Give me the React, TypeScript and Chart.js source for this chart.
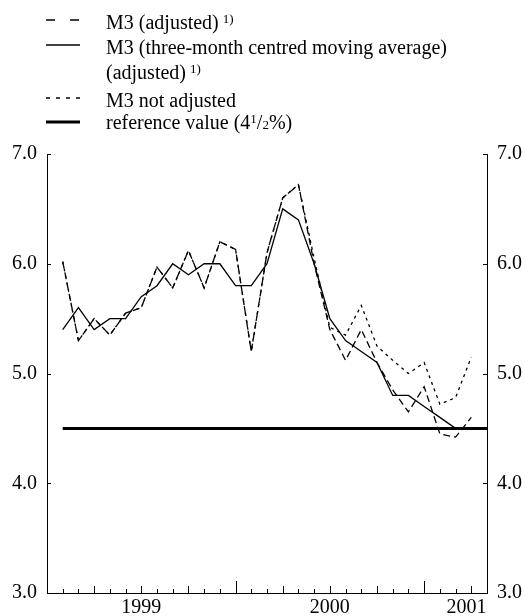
import React, { useEffect, useRef } from 'react';
import { Chart, registerables } from 'chart.js';

Chart.register(...registerables);

// Month-end observations, January 1999 to March 2001
const monthLabels = [
  'Jan 1999', 'Feb 1999', 'Mar 1999', 'Apr 1999', 'May 1999', 'Jun 1999',
  'Jul 1999', 'Aug 1999', 'Sep 1999', 'Oct 1999', 'Nov 1999', 'Dec 1999',
  'Jan 2000', 'Feb 2000', 'Mar 2000', 'Apr 2000', 'May 2000', 'Jun 2000',
  'Jul 2000', 'Aug 2000', 'Sep 2000', 'Oct 2000', 'Nov 2000', 'Dec 2000',
  'Jan 2001', 'Feb 2001', 'Mar 2001',
];

// M3 (adjusted) – dashed
const m3Adjusted = [
  6.02, 5.3, 5.5, 5.35, 5.55, 5.6, 5.97, 5.78, 6.12, 5.78, 6.2, 6.13,
  5.2, 6.1, 6.6, 6.72, 6.0, 5.4, 5.12, 5.4, 5.1, 4.85, 4.65, 4.88,
  4.45, 4.42, 4.6,
];

// M3 three-month centred moving average (adjusted) – solid
const m3MovingAverage = [
  5.4, 5.6, 5.4, 5.5, 5.5, 5.7, 5.8, 6.0, 5.9, 6.0, 6.0, 5.8,
  5.8, 6.0, 6.5, 6.4, 6.0, 5.5, 5.3, 5.2, 5.1, 4.8, 4.8, 4.7,
  4.6, 4.5,
];

// M3 not adjusted – dotted
const m3NotAdjusted = [
  6.02, 5.3, 5.5, 5.35, 5.55, 5.6, 5.97, 5.78, 6.12, 5.78, 6.2, 6.13,
  5.2, 6.1, 6.6, 6.72, 6.05, 5.42, 5.35, 5.62, 5.25, 5.12, 5.0, 5.1,
  4.72, 4.78, 5.15,
];

const referenceValue = 4.5;
const referenceStartMonth = 1;
const axisEndMonth = 28;
const yTickValues = [3, 4, 5, 6, 7];
const yearLabels = ['1999', '2000', '2001'];
const yearLabelMonths = [6, 18, 26.7];

const FONT = '"Liberation Serif", "Times New Roman", serif';

const toPoints = (vals: number[]) => vals.map((v, i) => ({ x: i + 1, y: v }));

const insideTicks = {
  id: 'insideTicks',
  afterDraw(chart: any) {
    const { ctx, chartArea: a, scales } = chart;
    ctx.save();
    ctx.strokeStyle = '#000';
    ctx.lineWidth = 1;
    const line = (x1: number, y1: number, x2: number, y2: number) => {
      ctx.beginPath();
      ctx.moveTo(x1, y1);
      ctx.lineTo(x2, y2);
      ctx.stroke();
    };
    yTickValues.forEach((v) => {
      const py = Math.round(scales.y.getPixelForValue(v)) + 0.5;
      line(a.left, py, a.left + 4, py);
      line(a.right - 4, py, a.right, py);
    });
    for (let m = 1; m < axisEndMonth; m++) {
      const len = m % 12 === 0 ? 12 : m % 3 === 0 ? 7 : 4;
      const px = Math.round(scales.x.getPixelForValue(m)) + 0.5;
      line(px, a.bottom, px, a.bottom - len);
    }
    ctx.restore();
  },
};

function LegendSample({ kind }: { kind: string }) {
  let dash = '';
  let width = 1.3;
  if (kind === 'dashed') dash = '9 15';
  if (kind === 'dotted') dash = '4 6';
  if (kind === 'thick') width = 3;
  return (
    <svg width={36} height={8} style={{ display: 'block' }}>
      <line x1={0} y1={4} x2={34} y2={4} stroke="#000" strokeWidth={width} strokeDasharray={dash || undefined} />
    </svg>
  );
}

const textStyle = (top: number): React.CSSProperties => ({
  position: 'absolute',
  left: 106,
  top,
  fontFamily: FONT,
  fontSize: 20,
  lineHeight: '20px',
  color: '#000',
  whiteSpace: 'nowrap',
});

const sampleStyle = (centerY: number): React.CSSProperties => ({
  position: 'absolute',
  left: 46,
  top: centerY - 4,
});

const supStyle: React.CSSProperties = { fontSize: 13, verticalAlign: 'top', position: 'relative', top: -3, marginLeft: 4 };

export default function App() {
  const canvasRef = useRef<HTMLCanvasElement | null>(null);

  useEffect(() => {
    const canvas = canvasRef.current;
    if (!canvas) return;
    const tickFont = { family: FONT, size: 20 };
    const chart = new Chart(canvas, {
      type: 'line',
      data: {
        datasets: [
          {
            label: 'reference value (4 1/2%)',
            data: [
              { x: referenceStartMonth, y: referenceValue },
              { x: axisEndMonth, y: referenceValue },
            ],
            borderColor: '#000',
            borderWidth: 3,
            pointRadius: 0,
            fill: false,
          },
          {
            label: 'M3 (three-month centred moving average) (adjusted)',
            data: toPoints(m3MovingAverage),
            borderColor: '#000',
            borderWidth: 1.3,
            pointRadius: 0,
            fill: false,
          },
          {
            label: 'M3 (adjusted)',
            data: toPoints(m3Adjusted),
            borderColor: '#000',
            borderWidth: 1.3,
            borderDash: [7, 4],
            pointRadius: 0,
            fill: false,
          },
          {
            label: 'M3 not adjusted',
            data: toPoints(m3NotAdjusted),
            borderColor: '#000',
            borderWidth: 1.3,
            borderDash: [3, 4],
            pointRadius: 0,
            fill: false,
          },
        ],
      } as any,
      options: {
        animation: false,
        responsive: false,
        devicePixelRatio: 1,
        layout: { padding: { top: 154, left: 0, right: 0, bottom: 0 } },
        plugins: { legend: { display: false }, tooltip: { enabled: false } },
        elements: { line: { tension: 0 } },
        scales: {
          x: {
            type: 'linear',
            min: 0,
            max: axisEndMonth,
            afterBuildTicks: (s: any) => {
              s.ticks = yearLabelMonths.map((v) => ({ value: v }));
            },
            afterFit: (s: any) => {
              s.height = 23;
            },
            ticks: {
              autoSkip: false,
              maxRotation: 0,
              padding: 3,
              color: '#000',
              font: tickFont,
              callback: (v: any) => {
                const i = yearLabelMonths.indexOf(Number(v));
                return i >= 0 ? yearLabels[i] : '';
              },
            },
            grid: { display: false, drawTicks: false },
            border: { display: true, color: '#000', width: 1 },
          },
          y: {
            type: 'linear',
            position: 'left',
            min: 3,
            max: 7,
            afterBuildTicks: (s: any) => {
              s.ticks = yTickValues.map((v) => ({ value: v }));
            },
            afterFit: (s: any) => {
              s.width = 47;
            },
            ticks: {
              padding: 10,
              color: '#000',
              font: tickFont,
              callback: (v: any) => Number(v).toFixed(1),
            },
            grid: { display: false, drawTicks: false },
            border: { display: true, color: '#000', width: 1 },
          },
          y2: {
            type: 'linear',
            position: 'right',
            min: 3,
            max: 7,
            afterBuildTicks: (s: any) => {
              s.ticks = yTickValues.map((v) => ({ value: v }));
            },
            afterFit: (s: any) => {
              s.width = 38;
            },
            ticks: {
              padding: 10,
              color: '#000',
              font: tickFont,
              callback: (v: any) => Number(v).toFixed(1),
            },
            grid: { display: false, drawTicks: false },
            border: { display: true, color: '#000', width: 1 },
          },
        },
      } as any,
      plugins: [insideTicks],
    });
    return () => chart.destroy();
  }, []);

  return (
    <div style={{ position: 'absolute', left: 0, top: 0, width: 525, height: 616, background: '#fff', overflow: 'hidden' }}>
      <canvas ref={canvasRef} width={525} height={616} style={{ position: 'absolute', left: 0, top: 0, width: 525, height: 616 }} />
      <div style={sampleStyle(20)}><LegendSample kind="dashed" /></div>
      <div style={textStyle(11.5)}>M3 (adjusted)<span style={supStyle}>1)</span></div>
      <div style={sampleStyle(45)}><LegendSample kind="solid" /></div>
      <div style={textStyle(36.5)}>M3 (three-month centred moving average)</div>
      <div style={textStyle(61.5)}>(adjusted)<span style={supStyle}>1)</span></div>
      <div style={sampleStyle(98)}><LegendSample kind="dotted" /></div>
      <div style={textStyle(89.5)}>M3 not adjusted</div>
      <div style={sampleStyle(122)}><LegendSample kind="thick" /></div>
      <div style={textStyle(111.5)}>
        reference value (4<span style={{ fontSize: 13, verticalAlign: 'top', position: 'relative', top: -3 }}>1</span>/<span style={{ fontSize: 13 }}>2</span>%)
      </div>
    </div>
  );
}
